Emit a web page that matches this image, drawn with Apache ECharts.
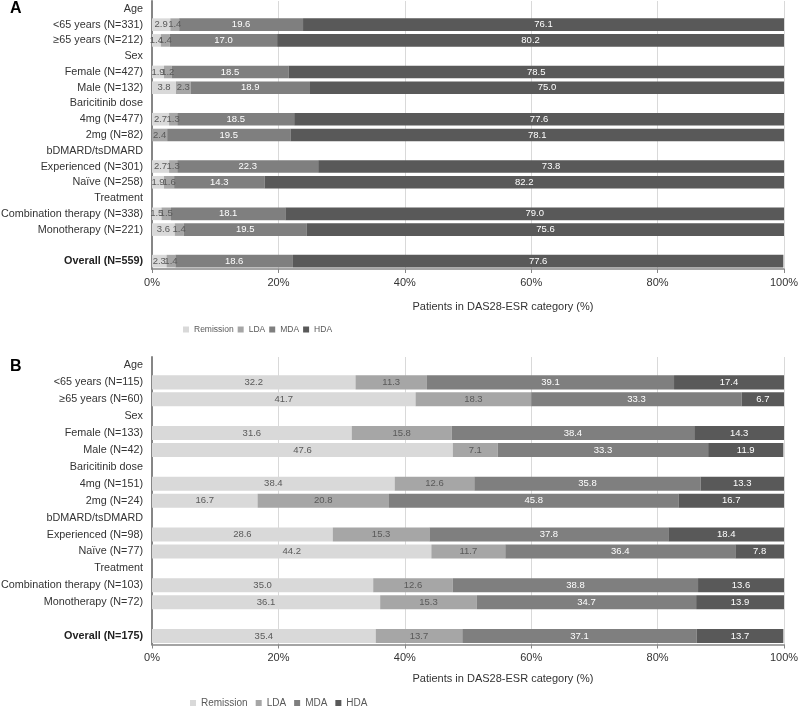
<!DOCTYPE html>
<html>
<head>
<meta charset="utf-8">
<script src="https://cdn.jsdelivr.net/npm/echarts@6/dist/echarts.min.js"></script>
<style>
html,body{margin:0;padding:0;background:#fff;}
#chart{width:798px;height:707px;}
</style>
</head>
<body>
<div id="chart"></div>
<script>
// ---- Data ----
const seriesNames = ['Remission', 'LDA', 'MDA', 'HDA'];
const tickLabels = ['0%', '20%', '40%', '60%', '80%', '100%'];

const categoriesA = ['Age', '<65 years (N=331)', '≥65 years (N=212)', 'Sex', 'Female (N=427)', 'Male (N=132)',
  'Baricitinib dose', '4mg (N=477)', '2mg (N=82)', 'bDMARD/tsDMARD', 'Experienced (N=301)', 'Naïve (N=258)',
  'Treatment', 'Combination therapy (N=338)', 'Monotherapy (N=221)', ' ', 'Overall (N=559)'];
const remissionA = [null, 2.9, 1.4, null, 1.9, 3.8, null, 2.7, 0, null, 2.7, 1.9, null, 1.5, 3.6, null, 2.3];
const ldaA       = [null, 1.4, 1.4, null, 1.2, 2.3, null, 1.3, 2.4, null, 1.3, 1.6, null, 1.5, 1.4, null, 1.4];
const mdaA       = [null, 19.6, 17.0, null, 18.5, 18.9, null, 18.5, 19.5, null, 22.3, 14.3, null, 18.1, 19.5, null, 18.6];
const hdaA       = [null, 76.1, 80.2, null, 78.5, 75.0, null, 77.6, 78.1, null, 73.8, 82.2, null, 79.0, 75.6, null, 77.6];

const categoriesB = ['Age', '<65 years (N=115)', '≥65 years (N=60)', 'Sex', 'Female (N=133)', 'Male (N=42)',
  'Baricitinib dose', '4mg (N=151)', '2mg (N=24)', 'bDMARD/tsDMARD', 'Experienced (N=98)', 'Naïve (N=77)',
  'Treatment', 'Combination therapy (N=103)', 'Monotherapy (N=72)', ' ', 'Overall (N=175)'];
const remissionB = [null, 32.2, 41.7, null, 31.6, 47.6, null, 38.4, 16.7, null, 28.6, 44.2, null, 35.0, 36.1, null, 35.4];
const ldaB       = [null, 11.3, 18.3, null, 15.8, 7.1, null, 12.6, 20.8, null, 15.3, 11.7, null, 12.6, 15.3, null, 13.7];
const mdaB       = [null, 39.1, 33.3, null, 38.4, 33.3, null, 35.8, 45.8, null, 37.8, 36.4, null, 38.8, 34.7, null, 37.1];
const hdaB       = [null, 17.4, 6.7, null, 14.3, 11.9, null, 13.3, 16.7, null, 18.4, 7.8, null, 13.6, 13.9, null, 13.7];

// ---- Styles ----
const colors = ['#d9d9d9', '#a6a6a6', '#7f7f7f', '#595959'];
const labelColors = ['#595959', '#595959', '#ffffff', '#ffffff'];
const FONT = 'Liberation Sans, Arial, sans-serif';
const textColor = '#333333';

const chart = echarts.init(document.getElementById('chart'), null, {renderer: 'canvas'});

function xAxis(gridIndex) {
  return {
    type: 'value', gridIndex, min: 0, max: 100, interval: 20,
    axisLabel: {
      formatter: v => tickLabels[Math.round(v / 20)], color: textColor, fontSize: 11, fontFamily: FONT, margin: 8
    },
    axisLine: {show: true, lineStyle: {color: '#868686', width: 1.5}},
    axisTick: {show: true, length: 4, lineStyle: {color: '#868686'}},
    splitLine: {show: true, lineStyle: {color: '#d9d9d9', width: 1}}
  };
}
function yAxis(gridIndex, cats) {
  return {
    type: 'category', gridIndex, data: cats, inverse: true,
    axisTick: {show: false},
    axisLine: {show: true, lineStyle: {color: '#868686', width: 2}},
    axisLabel: {
      color: textColor, fontSize: 10.8, fontFamily: FONT, margin: 9, interval: 0,
      formatter: v => v.indexOf('Overall') === 0 ? '{b|' + v + '}' : v,
      rich: {b: {fontWeight: 'bold', color: '#222222', fontSize: 10.8, fontFamily: FONT}}
    },
    splitLine: {show: false}
  };
}
function makeSeries(idx, stack, arrays, gap) {
  return arrays.map((arr, i) => ({
    name: seriesNames[i], type: 'bar', stack, xAxisIndex: idx, yAxisIndex: idx,
    data: arr, barCategoryGap: gap,
    itemStyle: {color: colors[i]},
    label: {
      show: true, position: 'inside', color: labelColors[i], fontSize: 9.5, fontFamily: FONT,
      textBorderWidth: 0, textShadowBlur: 0,
      formatter: p => (p.value === null || p.value === 0 || p.value === undefined) ? '' : Number(p.value).toFixed(1)
    },
    emphasis: {disabled: true},
    animation: false
  }));
}
function legend(left, top, fontSize, gap) {
  return {
    data: seriesNames, left, top, orient: 'horizontal', padding: 0,
    icon: 'rect', itemWidth: 6, itemHeight: 6, itemGap: gap,
    textStyle: {color: '#595959', fontSize, fontFamily: FONT}
  };
}

const option = {
  backgroundColor: '#fff',
  animation: false,
  title: [
    {text: 'A', left: 10, top: 1, padding: 0, textStyle: {fontSize: 16, fontWeight: 'bold', color: '#000', fontFamily: FONT}},
    {text: 'B', left: 10, top: 359, padding: 0, textStyle: {fontSize: 16, fontWeight: 'bold', color: '#000', fontFamily: FONT}},
    {text: 'Patients in DAS28-ESR category (%)', left: 503, top: 301, textAlign: 'center', padding: 0,
      textStyle: {fontSize: 11, fontWeight: 'normal', color: textColor, fontFamily: FONT}},
    {text: 'Patients in DAS28-ESR category (%)', left: 503, top: 673, textAlign: 'center', padding: 0,
      textStyle: {fontSize: 11, fontWeight: 'normal', color: textColor, fontFamily: FONT}}
  ],
  legend: [legend(183, 325, 8.5, 4), legend(190, 698, 10, 8)],
  grid: [
    {left: 152, right: 14, top: 1, height: 268, containLabel: false, outerBoundsMode: 'none'},
    {left: 152, right: 14, top: 357, height: 287.5, containLabel: false, outerBoundsMode: 'none'}
  ],
  xAxis: [xAxis(0), xAxis(1)],
  yAxis: [yAxis(0, categoriesA), yAxis(1, categoriesB)],
  series: [
    ...makeSeries(0, 'a', [remissionA, ldaA, mdaA, hdaA], '20%'),
    ...makeSeries(1, 'b', [remissionB, ldaB, mdaB, hdaB], '17%')
  ]
};
chart.setOption(option);
</script>
</body>
</html>
